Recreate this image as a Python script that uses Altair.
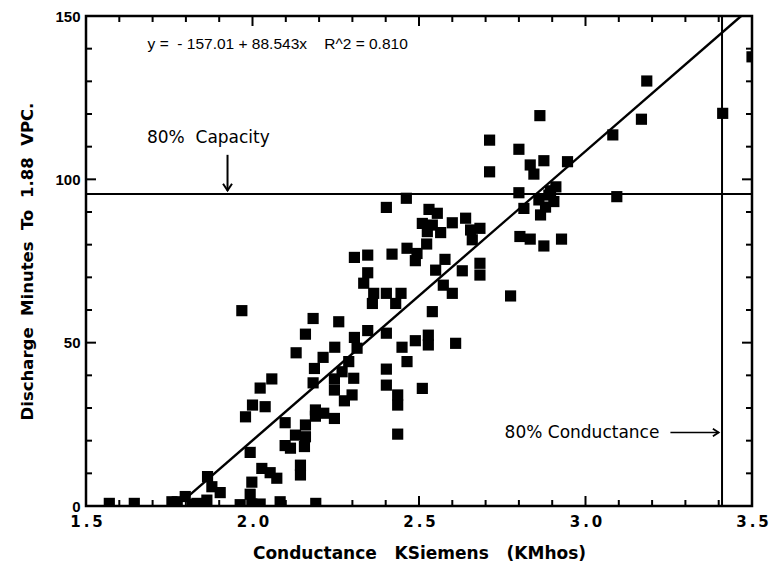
import altair as alt
import pandas as pd

# ---- data ----
cond_x = [
    1.570, 1.645, 1.758, 1.774, 1.798, 1.820, 1.833, 1.863, 1.865, 1.878, 1.903, 1.963,
    1.993, 1.998, 1.998, 2.023, 2.083, 2.190,
    2.028, 2.053, 2.073, 2.144, 2.144,
    1.993, 2.098, 2.114, 2.156, 2.129, 2.159, 2.098, 2.159, 1.979, 2.000, 2.038, 2.023,
    2.058, 1.968,
    2.189, 2.214, 2.189, 2.246, 2.436, 2.436, 2.436, 2.276, 2.299, 2.246, 2.510, 2.402,
    2.182, 2.246, 2.304, 2.269, 2.402, 2.186, 2.289, 2.464, 2.212, 2.131, 2.314, 2.247,
    2.449, 2.528, 2.610, 2.489, 2.306, 2.528, 2.159, 2.402, 2.346, 2.259, 2.182, 2.540,
    2.360, 2.430, 2.364, 2.402, 2.446,
    2.334, 2.346, 2.306, 2.346, 2.419, 2.464, 2.494, 2.489, 2.523, 2.525, 2.565, 2.510,
    2.540, 2.600, 2.640, 2.555, 2.530, 2.402, 2.462, 2.655, 2.683, 2.660, 2.550, 2.578,
    2.630, 2.683, 2.683, 2.573, 2.600,
    2.712, 2.800, 2.863, 3.082, 3.168, 3.184, 2.946, 2.834, 2.875, 2.845, 2.712, 2.911,
    2.800, 3.094, 2.890, 2.860, 2.905, 2.815, 2.865, 2.803, 2.834, 2.928, 2.875, 2.775,
    2.880, 2.895, 3.412, 3.500,
]
minutes_y = [
    0.8, 0.8, 1.3, 1.3, 2.9, 0.5, 0.8, 1.8, 9.0, 5.9, 4.1, 0.4,
    3.6, 7.3, 0.6, 0.6, 1.3, 0.8,
    11.5, 10.2, 8.5, 12.5, 9.5,
    16.4, 18.5, 17.7, 18.2, 21.7, 21.2, 25.5, 24.8, 27.3, 30.9, 30.4, 36.1,
    38.9, 59.8,
    29.4, 28.4, 27.5, 26.8, 22.0, 30.9, 34.0, 32.2, 34.0, 35.5, 36.0, 37.0,
    37.7, 38.9, 39.1, 41.1, 41.9, 42.1, 44.2, 44.2, 45.5, 46.9, 48.3, 48.6,
    48.6, 49.3, 49.8, 50.6, 51.6, 52.3, 52.6, 52.9, 53.7, 56.4, 57.4, 59.5,
    62.0, 62.0, 65.1, 65.1, 65.1,
    68.2, 71.4, 76.1, 76.8, 77.1, 78.9, 77.3, 75.1, 80.2, 84.0, 83.7, 86.5,
    86.0, 86.7, 88.1, 89.6, 90.8, 91.4, 94.2, 84.5, 85.0, 81.5, 72.2, 75.5,
    72.0, 74.3, 70.7, 67.6, 65.1,
    112.0, 109.2, 119.5, 113.6, 118.4, 130.1, 105.4, 104.4, 105.7, 101.6, 102.3, 97.7,
    95.9, 94.7, 95.2, 93.7, 93.2, 91.1, 89.1, 82.5, 81.7, 81.7, 79.6, 64.3,
    91.5, 96.5, 120.2, 137.5,
]

x_labels = [1.5, 2.0, 2.5, 3.0, 3.5]
y_labels = [0, 50, 100, 150]
x_minor = [round(1.5 + 0.1 * i, 1) for i in range(21)]
y_minor = [10 * i for i in range(16)]

intercept = -157.01
slope = 88.543
fit_start = 1.81
capacity_level = 95.5
conductance_level = 3.41

W, H = 666, 490
X0, X1, Y0, Y1 = 1.5, 3.5, 0.0, 150.0
FONT = "Liberation Sans"
WIDE = "DejaVu Sans"
NB = "\u00a0"

pts = pd.DataFrame({"x": cond_x, "y": minutes_y})
xs = alt.Scale(domain=[X0, X1], nice=False, zero=False)
ys = alt.Scale(domain=[Y0, Y1], nice=False)

fit_end = (Y1 - intercept) / slope
fit_df = pd.DataFrame({"x": [fit_start, fit_end],
                       "y": [intercept + slope * fit_start, intercept + slope * fit_end]})

# inward tick segments on all four sides (pixel lengths converted to data units)
px_x = (X1 - X0) / W
px_y = (Y1 - Y0) / H
seg = []
for v in x_minor:
    L = 10 if v in x_labels else 6
    seg.append((v, v, Y0, Y0 + L * px_y))
    seg.append((v, v, Y1, Y1 - L * px_y))
for v in y_minor:
    L = 10 if v in y_labels else 6
    seg.append((X0, X0 + L * px_x, v, v))
    seg.append((X1, X1 - L * px_x, v, v))
tick_df = pd.DataFrame(seg, columns=["x", "x2", "y", "y2"])

xaxis = alt.Axis(values=x_labels, format=".1f", ticks=False, domain=False, grid=False,
                 labelFlush=False, labelExpr="replace(datum.label, '.', '\u2009.\u2009')",
                 labelFont=WIDE, labelFontWeight="bold", labelFontSize=15, labelPadding=8,
                 labelColor="black",
                 title=f"Conductance{NB*3}KSiemens{NB*3}(KMhos)",
                 titleFont=WIDE, titleFontWeight="bold", titleFontSize=17, titlePadding=16,
                 titleColor="black")
yaxis = alt.Axis(values=y_labels, ticks=False, domain=False, grid=False, labelFlush=False,
                 labelFont=FONT, labelFontWeight="bold", labelFontSize=15, labelPadding=6,
                 labelColor="black",
                 title=f"Discharge{NB*2}Minutes{NB*2}To{NB*2}1.88{NB*2}VPC.",
                 titleFont=WIDE, titleFontWeight="bold", titleFontSize=16.5, titlePadding=19,
                 titleColor="black")

ticks = alt.Chart(tick_df).mark_rule(color="black", strokeWidth=2).encode(
    x=alt.X("x:Q", scale=xs, axis=xaxis), x2="x2:Q",
    y=alt.Y("y:Q", scale=ys, axis=yaxis), y2="y2:Q")

base_pts = alt.Chart(pts).mark_square(size=125, color="black", opacity=1, clip=True).encode(
    x=alt.X("x:Q", scale=xs),
    y=alt.Y("y:Q", scale=ys),
)

fit_line = alt.Chart(fit_df).mark_line(color="black", strokeWidth=2.4, clip=True).encode(
    x=alt.X("x:Q", scale=xs), y=alt.Y("y:Q", scale=ys))

hline = alt.Chart(pd.DataFrame({"y": [capacity_level]})).mark_rule(
    color="black", strokeWidth=2).encode(y=alt.Y("y:Q", scale=ys))
vline = alt.Chart(pd.DataFrame({"x": [conductance_level]})).mark_rule(
    color="black", strokeWidth=2).encode(x=alt.X("x:Q", scale=xs))

# annotations
eq_text = alt.Chart(pd.DataFrame({"x": [1.685], "y": [141.5]})).mark_text(
    text=f"y ={NB}{NB}- 157.01 + 88.543x{NB}{NB}{NB}{NB}R^2 = 0.810", font=FONT,
    fontSize=15.5, align="left", baseline="middle", color="black").encode(
    x=alt.X("x:Q", scale=xs), y=alt.Y("y:Q", scale=ys))

cap_text = alt.Chart(pd.DataFrame({"x": [1.683], "y": [112.6]})).mark_text(
    text=f"80%{NB}{NB}Capacity", font=WIDE, fontSize=17, align="left", baseline="middle",
    color="black").encode(x=alt.X("x:Q", scale=xs), y=alt.Y("y:Q", scale=ys))

cap_arrow = alt.Chart(pd.DataFrame({"x": [1.925], "y": [107.5], "y2": [96.5]})).mark_rule(
    color="black", strokeWidth=2).encode(
    x=alt.X("x:Q", scale=xs), y=alt.Y("y:Q", scale=ys), y2="y2:Q")
cap_head = alt.Chart(pd.DataFrame({"x": [1.925], "y": [96.6]})).mark_point(
    shape="M -1 -1.5 L 0 0 L 1 -1.5", filled=False, size=80, color="black",
    strokeWidth=2, opacity=1).encode(x=alt.X("x:Q", scale=xs), y=alt.Y("y:Q", scale=ys))

con_text = alt.Chart(pd.DataFrame({"x": [2.757], "y": [22.5]})).mark_text(
    text="80% Conductance", font=WIDE, fontSize=17, align="left", baseline="middle",
    color="black").encode(x=alt.X("x:Q", scale=xs), y=alt.Y("y:Q", scale=ys))
con_arrow = alt.Chart(pd.DataFrame({"x": [3.255], "x2": [3.40], "y": [22.5]})).mark_rule(
    color="black", strokeWidth=1.6).encode(
    x=alt.X("x:Q", scale=xs), x2="x2:Q", y=alt.Y("y:Q", scale=ys))
con_head = alt.Chart(pd.DataFrame({"x": [3.40], "y": [22.5]})).mark_point(
    shape="M -1.5 -1 L 0 0 L -1.5 1", filled=False, size=60, color="black",
    strokeWidth=1.8, opacity=1).encode(x=alt.X("x:Q", scale=xs), y=alt.Y("y:Q", scale=ys))

chart = alt.layer(
    ticks, base_pts, fit_line, hline, vline,
    eq_text, cap_text, cap_arrow, cap_head, con_text, con_arrow, con_head,
).properties(
    width=W, height=H,
    autosize=alt.AutoSizeParams(type="none"),
    padding={"left": 86, "top": 16, "right": 21, "bottom": 63},
    background="white",
).configure_view(stroke="black", strokeWidth=2.5)

chart.save("out.html", embed_options={"renderer": "svg", "actions": False})
